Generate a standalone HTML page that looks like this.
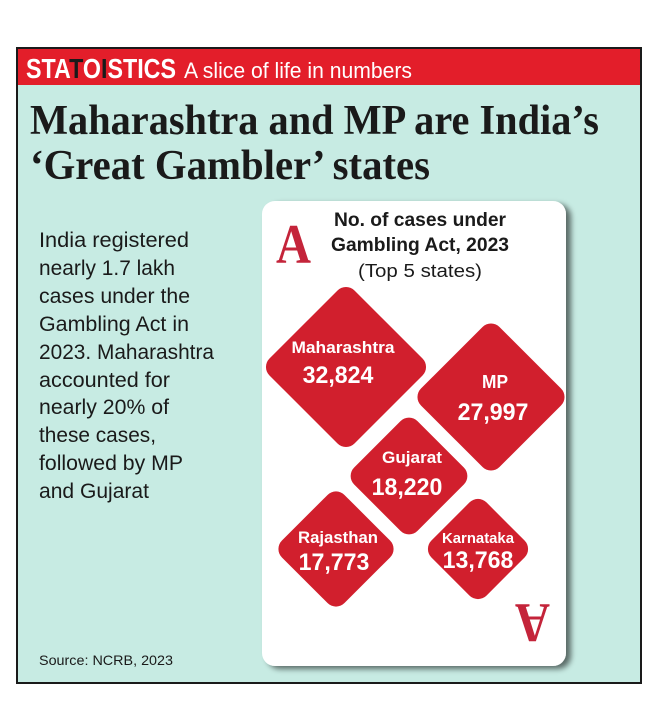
<!DOCTYPE html>
<html><head><meta charset="utf-8"><style>
html,body{margin:0;padding:0;background:#fff;}
svg{display:block;}
</style></head><body>
<svg id="chart" width="655" height="708" viewBox="0 0 655 708" xmlns="http://www.w3.org/2000/svg">
<defs>
<filter id="sh" x="-10%" y="-10%" width="130%" height="130%">
<feGaussianBlur in="SourceAlpha" stdDeviation="3"/><feOffset dx="5" dy="3"/>
<feComponentTransfer><feFuncA type="linear" slope="0.55"/></feComponentTransfer>
<feMerge><feMergeNode/><feMergeNode in="SourceGraphic"/></feMerge>
</filter>
</defs>
<rect x="17" y="48" width="624" height="635" fill="#c7ebe3" stroke="#1a1a1a" stroke-width="2"/>
<rect x="18" y="49" width="622" height="36" fill="#e31e2a"/>
<text x="26" y="78" font-family="Liberation Sans, sans-serif" font-weight="bold" font-size="28" textLength="150" lengthAdjust="spacingAndGlyphs" fill="#fff">STA<tspan fill="#1a1a1a">T</tspan>O<tspan fill="#1a1a1a">I</tspan>STICS</text>
<text x="184" y="78" font-family="Liberation Sans, sans-serif" font-size="22" textLength="228" lengthAdjust="spacingAndGlyphs" fill="#fff">A slice of life in numbers</text>
<text x="30" y="134" font-family="Liberation Serif, serif" font-weight="bold" font-size="42" textLength="569" lengthAdjust="spacingAndGlyphs" fill="#1a1a1a">Maharashtra and MP are India’s</text>
<text x="30" y="179" font-family="Liberation Serif, serif" font-weight="bold" font-size="42" textLength="400" lengthAdjust="spacingAndGlyphs" fill="#1a1a1a">‘Great Gambler’ states</text>
<g font-family="Liberation Sans, sans-serif" font-size="21" fill="#1a1a1a">
<text x="39" y="247" textLength="150" lengthAdjust="spacingAndGlyphs">India registered</text>
<text x="39" y="275" textLength="136" lengthAdjust="spacingAndGlyphs">nearly 1.7 lakh</text>
<text x="39" y="303" textLength="151" lengthAdjust="spacingAndGlyphs">cases under the</text>
<text x="39" y="331" textLength="150" lengthAdjust="spacingAndGlyphs">Gambling Act in</text>
<text x="39" y="359" textLength="175" lengthAdjust="spacingAndGlyphs">2023. Maharashtra</text>
<text x="39" y="387" textLength="131" lengthAdjust="spacingAndGlyphs">accounted for</text>
<text x="39" y="414" textLength="130" lengthAdjust="spacingAndGlyphs">nearly 20% of</text>
<text x="39" y="442" textLength="117" lengthAdjust="spacingAndGlyphs">these cases,</text>
<text x="39" y="470" textLength="144" lengthAdjust="spacingAndGlyphs">followed by MP</text>
<text x="39" y="498" textLength="110" lengthAdjust="spacingAndGlyphs">and Gujarat</text>
</g>
<text x="39" y="665" font-family="Liberation Sans, sans-serif" font-size="14" textLength="134" lengthAdjust="spacingAndGlyphs" fill="#1a1a1a">Source: NCRB, 2023</text>
<rect x="262" y="201" width="304" height="465" rx="13" fill="#fff" filter="url(#sh)"/>
<text x="276" y="263" font-family="Liberation Serif, serif" font-weight="bold" font-size="56" textLength="35" lengthAdjust="spacingAndGlyphs" fill="#c4243a">A</text>
<text x="0" y="0" transform="translate(550,604) rotate(180)" font-family="Liberation Serif, serif" font-weight="bold" font-size="56" textLength="35" lengthAdjust="spacingAndGlyphs" fill="#c4243a">A</text>
<text x="420" y="226" text-anchor="middle" font-family="Liberation Sans, sans-serif" font-weight="bold" font-size="19" textLength="172" lengthAdjust="spacingAndGlyphs" fill="#1a1a1a">No. of cases under</text>
<text x="420" y="251" text-anchor="middle" font-family="Liberation Sans, sans-serif" font-weight="bold" font-size="19" textLength="178" lengthAdjust="spacingAndGlyphs" fill="#1a1a1a">Gambling Act, 2023</text>
<text x="420" y="277" text-anchor="middle" font-family="Liberation Sans, sans-serif" font-size="18" textLength="124" lengthAdjust="spacingAndGlyphs" fill="#1a1a1a">(Top 5 states)</text>
<g id="diamonds"></g>
</svg>
<script>
const states = ['Maharashtra', 'MP', 'Gujarat', 'Rajasthan', 'Karnataka'];
const cases = [32824, 27997, 18220, 17773, 13768];
const valueLabels = ['32,824', '27,997', '18,220', '17,773', '13,768'];

const layout = [
  {cx:346, cy:367, lx:343, ly:-14, vx:338, vy:16, lfs:17, lw:103},
  {cx:491, cy:397, lx:495, ly:-9,  vx:493, vy:23, lfs:18, lw:26},
  {cx:409, cy:476, lx:412, ly:-13, vx:407, vy:19, lfs:17, lw:60},
  {cx:336, cy:549, lx:338, ly:-6,  vx:334, vy:21, lfs:17, lw:80},
  {cx:478, cy:549, lx:478, ly:-6,  vx:478, vy:19, lfs:15, lw:72}
];
const maxV = Math.max(...cases);
function halfSize(v){ return 85 * Math.sqrt(v / maxV); }
const NS = 'http://www.w3.org/2000/svg';
const g = document.getElementById('diamonds');
states.forEach((s, i) => {
  const L = layout[i];
  const h = halfSize(cases[i]);
  const side = h * Math.SQRT2;
  const r = document.createElementNS(NS, 'rect');
  r.setAttribute('x', L.cx - side/2);
  r.setAttribute('y', L.cy - side/2);
  r.setAttribute('width', side);
  r.setAttribute('height', side);
  r.setAttribute('rx', 12);
  r.setAttribute('fill', '#d11f2d');
  r.setAttribute('transform', `rotate(45 ${L.cx} ${L.cy})`);
  
  
  g.appendChild(r);
  const t = document.createElementNS(NS, 'text');
  t.setAttribute('x', L.lx);
  t.setAttribute('y', L.cy + L.ly);
  t.setAttribute('text-anchor', 'middle');
  t.setAttribute('font-family', 'Liberation Sans, sans-serif');
  t.setAttribute('font-weight', 'bold');
  t.setAttribute('font-size', L.lfs);
  t.setAttribute('fill', '#fff');
  t.setAttribute('textLength', L.lw);
  t.setAttribute('lengthAdjust', 'spacingAndGlyphs');
  t.textContent = s;
  
  
  g.appendChild(t);
  const v = document.createElementNS(NS, 'text');
  v.setAttribute('x', L.vx);
  v.setAttribute('y', L.cy + L.vy);
  v.setAttribute('text-anchor', 'middle');
  v.setAttribute('font-family', 'Liberation Sans, sans-serif');
  v.setAttribute('font-weight', 'bold');
  v.setAttribute('font-size', 24);
  v.setAttribute('fill', '#fff');
  v.setAttribute('textLength', valueLabels[i].length * 11.8);
  v.setAttribute('lengthAdjust', 'spacingAndGlyphs');
  v.textContent = valueLabels[i];
  
  
  g.appendChild(v);
});
</script>
</body></html>
